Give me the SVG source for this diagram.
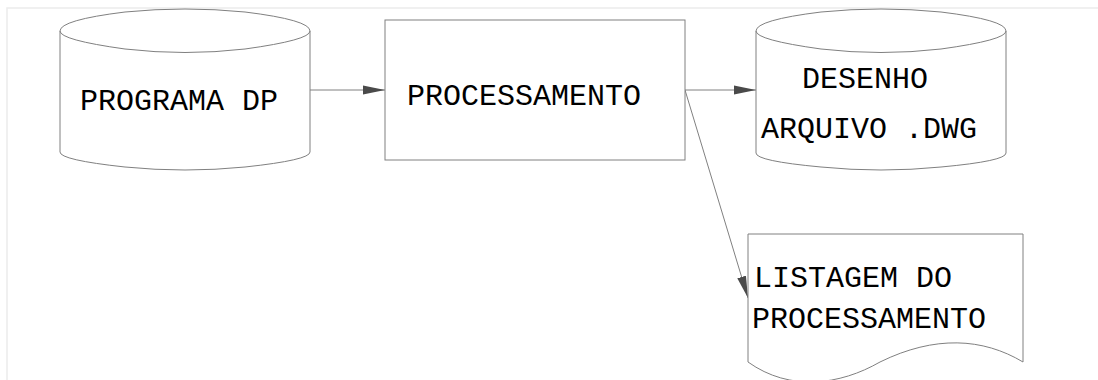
<svg xmlns="http://www.w3.org/2000/svg" width="1098" height="380" viewBox="0 0 1098 380">
<defs>
<style>
.shape{fill:#fff;stroke:#808080;stroke-width:1}
.edge{fill:none;stroke:#808080;stroke-width:1}
.lbl{font-family:"Liberation Mono","Courier New",monospace;font-size:30px;fill:#000}
.frame{fill:none;stroke:#ececec;stroke-width:1.5}
</style>
<marker id="arr" viewBox="0 0 22 10" refX="22" refY="5" markerWidth="22" markerHeight="10" markerUnits="userSpaceOnUse" orient="auto">
<path d="M0,0.5 L22,5 L0,9.5 Z" fill="#4a4a4a"/>
</marker>
</defs>
<rect width="1098" height="380" fill="#fff"/>
<path class="frame" d="M7,380 V8 H1098"/>
<g id="connectors">
<path class="edge" d="M310,90 H385" marker-end="url(#arr)"/>
<path class="edge" d="M685,90 H756" marker-end="url(#arr)"/>
<path class="edge" d="M685,90 L748,298" marker-end="url(#arr)"/>
</g>
<g id="programa">
<path class="shape" d="M60,31 Q60,20 125,12 Q185,6 245,12 Q310,20 310,31 V152 Q310,160 245,167 Q185,173 125,167 Q60,160 60,152 Z"/>
<path class="edge" d="M60,31 Q60,40 125,49 Q185,56 245,49 Q310,40 310,31"/>
<text class="lbl" x="80" y="110">PROGRAMA DP</text>
</g>
<g id="processamento">
<rect class="shape" x="385" y="20" width="300" height="140"/>
<text class="lbl" x="407" y="105">PROCESSAMENTO</text>
</g>
<g id="desenho">
<path class="shape" d="M756,31 Q756,20 821,12 Q881,6 941,12 Q1006,20 1006,31 V153 Q1006,161 941,167 Q881,173 821,167 Q756,161 756,153 Z"/>
<path class="edge" d="M756,31 Q756,40 821,49 Q881,56 941,49 Q1006,40 1006,31"/>
<text class="lbl" x="802" y="88">DESENHO</text>
<text class="lbl" x="761" y="138">ARQUIVO .DWG</text>
</g>
<g id="listagem">
<path class="shape" d="M748,234 H1023 V362 C983,338 935,335 880,362 C840,385 790,392 748,362 Z"/>
<text class="lbl" x="754" y="287">LISTAGEM DO</text>
<text class="lbl" x="752" y="328">PROCESSAMENTO</text>
</g>
</svg>
